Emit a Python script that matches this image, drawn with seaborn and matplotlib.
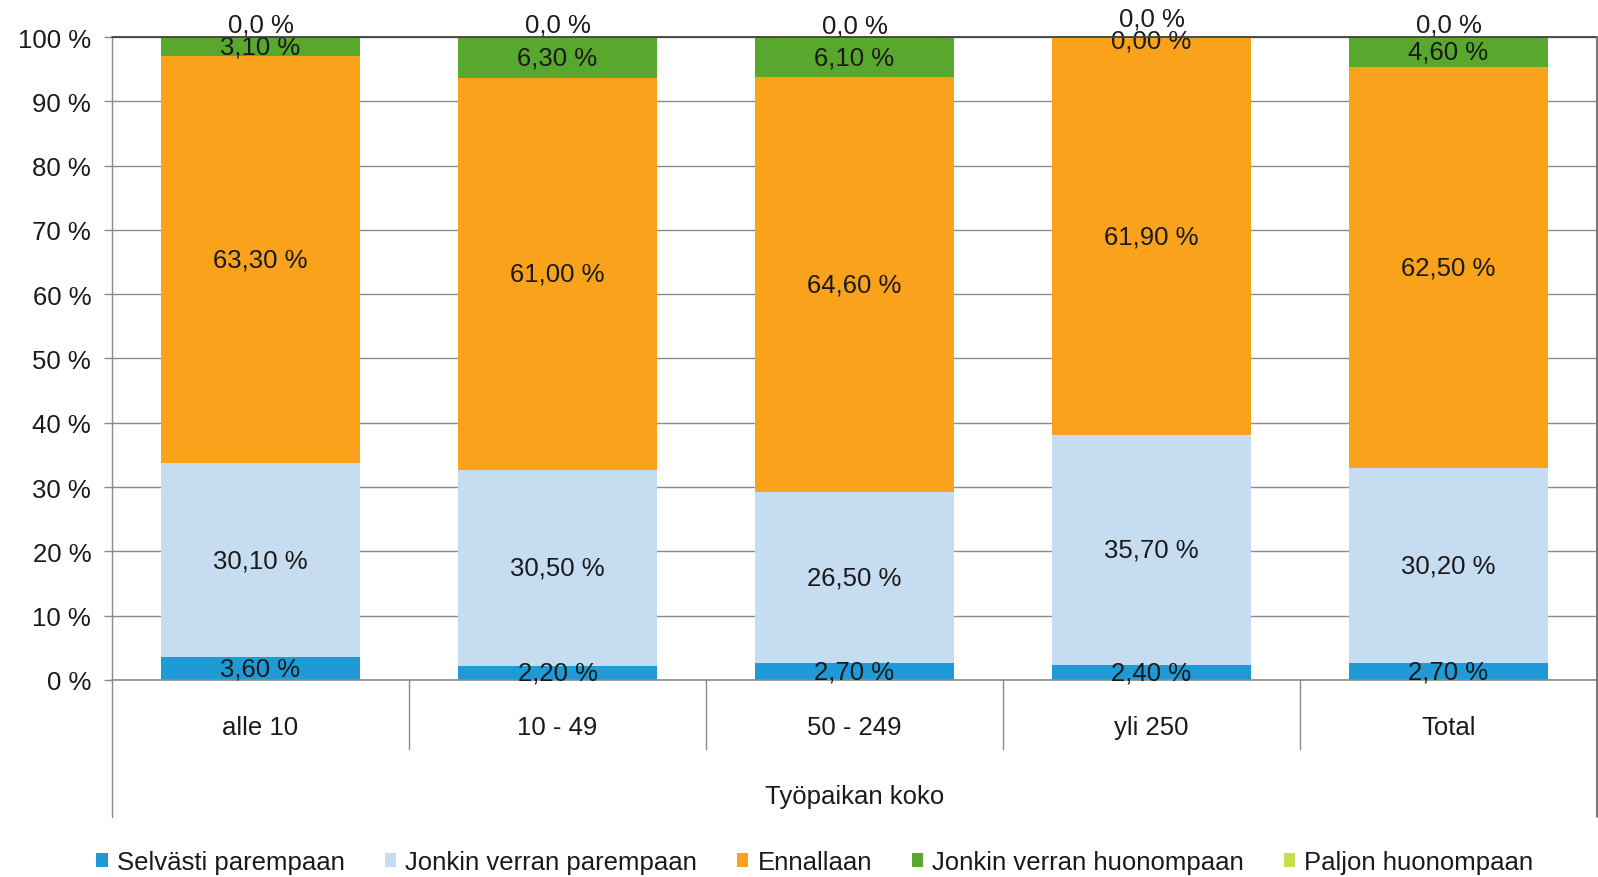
import matplotlib
matplotlib.use("Agg")
import matplotlib.pyplot as plt
import matplotlib.transforms as mtransforms
from matplotlib.patches import Patch
import seaborn as sns
import numpy as np

categories = ["alle 10", "10 - 49", "50 - 249", "yli 250", "Total"]
series_names = ["Selvästi parempaan", "Jonkin verran parempaan", "Ennallaan",
                "Jonkin verran huonompaan", "Paljon huonompaan"]
selvasti = [3.6, 2.2, 2.7, 2.4, 2.7]
jonkin_par = [30.1, 30.5, 26.5, 35.7, 30.2]
ennallaan = [63.3, 61.0, 64.6, 61.9, 62.5]
jonkin_huon = [3.1, 6.3, 6.1, 0.0, 4.6]
paljon = [0.0, 0.0, 0.0, 0.0, 0.0]
yticks = [0, 10, 20, 30, 40, 50, 60, 70, 80, 90, 100]
xlabel = "Työpaikan koko"

colors = ["#1E9BD7", "#C6DCF1", "#FAA21B", "#57A82C", "#C5E04A"]

sns.set_theme(style="white")
plt.rcParams['font.family'] = ['Liberation Sans', 'DejaVu Sans']

values = np.array([selvasti, jonkin_par, ennallaan, jonkin_huon, paljon])
cum = np.cumsum(values, axis=0)

fig = plt.figure(figsize=(15.98, 8.78), dpi=100)
ax = fig.add_axes([0.0701, 0.2244, 0.9293, 0.7323])

fs = 18.5
# Stacked bars: draw cumulative totals from top to bottom
for k in range(len(series_names) - 1, -1, -1):
    sns.barplot(x=categories, y=np.minimum(cum[k], 100), color=colors[k],
                saturation=1, width=0.67, ax=ax, zorder=2,
                edgecolor="none", linewidth=0)

ax.set_xlim(-0.5, 4.5)
ax.set_ylim(0, 100)
ax.set_yticks(yticks)
ax.set_yticklabels([f"{t} %" for t in yticks], fontsize=fs, color="#1a1a1a")
ax.set_xticks([])
ax.set_xlabel("")
ax.set_ylabel("")
ax.grid(axis="y", color="#8a8a8a", linewidth=1.0, zorder=0)
ax.set_axisbelow(True)
ax.tick_params(axis="y", left=True, length=6, width=1, color="#8a8a8a", pad=9)
for s in ["top", "right"]:
    ax.spines[s].set_visible(False)
ax.spines["left"].set_color("#8a8a8a")
ax.spines["bottom"].set_color("#8a8a8a")
ax.spines["left"].set_linewidth(1.0)
ax.spines["bottom"].set_linewidth(1.2)

# data labels
for k in range(len(series_names)):
    for i in range(len(categories)):
        v = values[k, i]
        center = cum[k, i] - v / 2
        if k == len(series_names) - 1:
            txt = f"{v:.1f}".replace(".", ",") + " %"
            center = cum[k, i] + (2.9 if i == 3 else 1.9)
        else:
            txt = f"{v:.2f}".replace(".", ",") + " %"
            if v == 0:
                center -= 0.6
        ax.text(i, center, txt, ha="center", va="center", fontsize=fs,
                color="#1a1a1a", zorder=5, clip_on=False)

trans = mtransforms.blended_transform_factory(ax.transData, ax.transAxes)
# frame lines
ax.plot([-0.5, 4.5], [1, 1], transform=trans, color="#404040", lw=1.3, clip_on=False, zorder=6)
ax.plot([4.5, 4.5], [1, -0.213], transform=trans, color="#6a6a6a", lw=1.3, clip_on=False, zorder=6)
ax.plot([-0.5, -0.5], [0, -0.213], transform=trans, color="#8a8a8a", lw=1.0, clip_on=False)
for b in [0.5, 1.5, 2.5, 3.5]:
    ax.plot([b, b], [0, -0.107], transform=trans, color="#8a8a8a", lw=1.0, clip_on=False)

for i, c in enumerate(categories):
    ax.text(i, -0.0731, c, transform=trans, ha="center", va="center",
            fontsize=fs, color="#1a1a1a")
ax.text(2, -0.180, xlabel, transform=trans, ha="center", va="center",
        fontsize=fs, color="#1a1a1a")

handles = [Patch(facecolor=colors[k], edgecolor="none", label=series_names[k])
           for k in range(len(series_names))]
fig.legend(handles=handles, loc="center", bbox_to_anchor=(0.510, 0.017),
           ncol=5, frameon=False, fontsize=fs, handlelength=0.45,
           handleheight=0.45, handletextpad=0.35, columnspacing=1.55,
           labelcolor="#1a1a1a")

fig.savefig("out.png", dpi=100)
